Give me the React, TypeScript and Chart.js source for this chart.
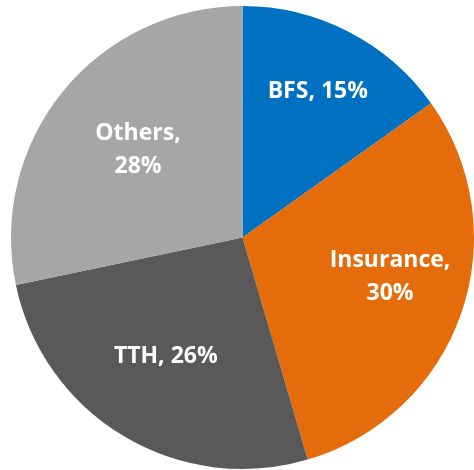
import React, { useEffect, useRef } from "react";
import { Chart, registerables } from "chart.js";

Chart.register(...registerables);

const categories = ["BFS", "Insurance", "TTH", "Others"];
const values = [15, 30, 26, 28];
const wrapLabel = [false, true, false, true];
const colors = ["#0070C0", "#E46C0A", "#595959", "#A6A6A6"];
const labelRadiusFactor = [0.71, 0.66, 0.61, 0.59];
const labelAngleShiftDeg = [0, -4, 2, 1];

const labelPlugin = {
  id: "sliceLabels",
  afterDatasetsDraw(chart: any) {
    const ctx = chart.ctx;
    const meta = chart.getDatasetMeta(0);
    ctx.save();
    ctx.fillStyle = "#FFFFFF";
    ctx.font = "bold 23px 'Open Sans'";
    ctx.textAlign = "center";
    ctx.textBaseline = "middle";
    meta.data.forEach((arc: any, i: number) => {
      const p = arc.getProps(["x", "y", "startAngle", "endAngle", "outerRadius"], true);
      const mid = (p.startAngle + p.endAngle) / 2 + (labelAngleShiftDeg[i] * Math.PI) / 180;
      const r = p.outerRadius * labelRadiusFactor[i];
      const cx = p.x + Math.cos(mid) * r;
      const cy = p.y + Math.sin(mid) * r;
      const lines = wrapLabel[i]
        ? [categories[i] + ",", values[i] + "%"]
        : [categories[i] + ", " + values[i] + "%"];
      const lh = 33;
      const y0 = cy - ((lines.length - 1) * lh) / 2;
      lines.forEach((t, j) => ctx.fillText(t, cx, y0 + j * lh));
    });
    ctx.restore();
  },
};

export default function App() {
  const ref = useRef<HTMLCanvasElement | null>(null);
  useEffect(() => {
    if (!ref.current) return;
    const chart = new Chart(ref.current, {
      type: "pie",
      data: {
        labels: categories,
        datasets: [
          {
            data: values,
            backgroundColor: colors,
            borderWidth: 0,
          },
        ],
      },
      options: {
        animation: false,
        responsive: true,
        maintainAspectRatio: false,
        layout: { padding: { left: 11, right: 0, top: 6, bottom: 1 } },
        plugins: {
          legend: { display: false },
          tooltip: { enabled: false },
        },
      },
      plugins: [labelPlugin],
    });
    return () => chart.destroy();
  }, []);
  return (
    <div style={{ position: "fixed", left: 0, top: 0, width: 474, height: 470, background: "#fff" }}>
      <canvas ref={ref} />
    </div>
  );
}
